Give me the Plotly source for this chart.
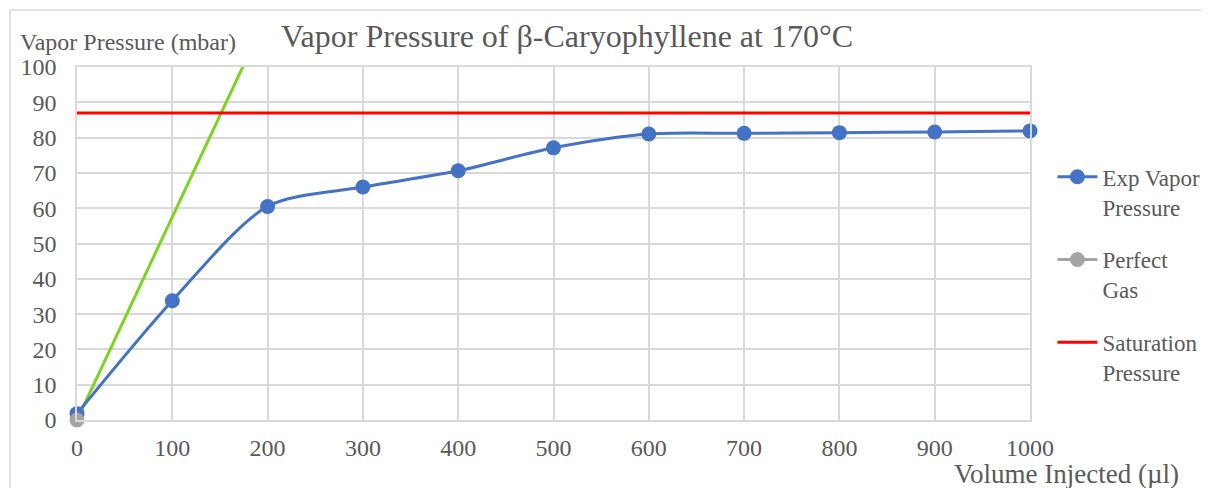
import plotly.graph_objects as go

# data
vol_ul = [0, 100, 200, 300, 400, 500, 600, 700, 800, 900, 1000]
exp_vapor = [1.8, 33.8, 60.5, 66.0, 70.6, 77.1, 81.0, 81.2, 81.4, 81.6, 81.9]
perfect_x = [0]
perfect_y = [0]
ideal_x = [0, 200]
ideal_y = [0, 115]
sat_x = [0, 1000]
sat_y = [87, 87]

FONT = "Liberation Serif"
GREY = "#595959"

fig = go.Figure()

fig.add_trace(go.Scatter(x=ideal_x, y=ideal_y, mode="lines", showlegend=False,
                         line=dict(color="#7ed321", width=3), hoverinfo="skip"))
fig.add_trace(go.Scatter(x=sat_x, y=sat_y, mode="lines", name="Saturation<br>Pressure",
                         legendgroup="c", legendrank=3,
                         line=dict(color="#ff0000", width=3)))
fig.add_trace(go.Scatter(x=vol_ul, y=exp_vapor, mode="lines+markers",
                         name="Exp Vapor<br>Pressure", legendgroup="a", legendrank=1,
                         line=dict(color="#4472c4", width=3, shape="spline", smoothing=0.8),
                         marker=dict(color="#4472c4", size=15), cliponaxis=False))
fig.add_trace(go.Scatter(x=perfect_x, y=perfect_y, mode="lines+markers",
                         name="Perfect<br>Gas", legendgroup="b", legendrank=2,
                         line=dict(color="#a5a5a5", width=3),
                         marker=dict(color="#a5a5a5", size=15), cliponaxis=False))

axis = dict(showgrid=True, gridcolor="#d9d9d9", gridwidth=1.5, zeroline=False,
            showline=True, linecolor="#d9d9d9", linewidth=1.5, mirror=True,
            tickfont=dict(family=FONT, size=24, color=GREY), ticks="")

# the page adds an 8px body margin, so margins are shifted by 8px
fig.update_layout(
    width=1209, height=488,
    margin=dict(l=69, r=185, t=59, b=76),
    paper_bgcolor="white", plot_bgcolor="white",
    font=dict(family=FONT, color=GREY),
    title=dict(text="Vapor Pressure of β-Caryophyllene at 170°C",
               font=dict(family=FONT, size=32, color=GREY),
               x=0.4624, xanchor="center", y=0.943, yanchor="middle"),
    xaxis=dict(range=[0, 1000], dtick=100, ticklabelstandoff=5, **axis),
    yaxis=dict(range=[0, 100], dtick=10, ticklabelstandoff=14, **axis),
    legend=dict(x=1.0235, y=0.75, xanchor="left", yanchor="top", valign="top",
                font=dict(family=FONT, size=23, color=GREY),
                tracegroupgap=20, itemwidth=40, bgcolor="rgba(0,0,0,0)"),
    showlegend=True,
    annotations=[
        dict(text="Vapor Pressure (mbar)", xref="paper", yref="paper",
             x=-0.0618, y=1.07, xanchor="left", yanchor="middle", showarrow=False,
             font=dict(family=FONT, size=24, color=GREY)),
        dict(text="Volume Injected (µl)", xref="paper", yref="paper",
             x=1.158, y=-0.152, xanchor="right", yanchor="middle", showarrow=False,
             font=dict(family=FONT, size=27, color=GREY)),
    ],
    shapes=[dict(type="rect", xref="paper", yref="paper",
                 x0=-0.0702, x1=1.3, y0=-0.3, y1=1.1615,
                 line=dict(color="#d9d9d9", width=1.5), layer="below")],
)

fig.write_html("out.html")
